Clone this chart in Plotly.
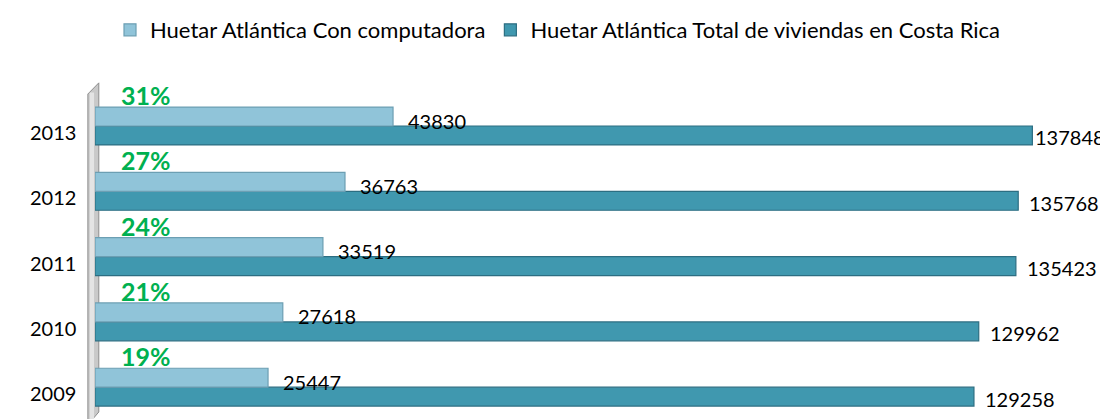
import plotly.graph_objects as go

years = ["2009", "2010", "2011", "2012", "2013"]
con_computadora = [25447, 27618, 33519, 36763, 43830]
total_viviendas = [129258, 129962, 135423, 135768, 137848]
pct_labels = ["19%", "21%", "24%", "27%", "31%"]

name_con = "Huetar Atlántica Con computadora"
name_tot = "Huetar Atlántica Total de viviendas en Costa Rica"

FONT = "Lato"
light = "#90C4D9"
dark = "#4098AF"

# page has an 8px body margin: the figure is drawn from (8, 8)
W, H = 1100, 411

fig = go.Figure()
fig.add_trace(go.Bar(
    y=years, x=total_viviendas, orientation="h", name=name_tot,
    marker=dict(color=dark, line=dict(color="#2C6E82", width=1.2)),
    legendrank=2,
))
fig.add_trace(go.Bar(
    y=years, x=con_computadora, orientation="h", name=name_con,
    marker=dict(color=light, line=dict(color="#6C9FB3", width=1.2)),
    legendrank=1,
))

annotations = []
bar_h = 0.29
vmax = max(total_viviendas)
for i, yr in enumerate(years):
    annotations.append(dict(x=con_computadora[i], y=i + bar_h / 2, xref="x", yref="y",
                            text=str(con_computadora[i]), showarrow=False,
                            xanchor="left", xshift=13, yshift=-4,
                            font=dict(family=FONT, size=20, color="black")))
    annotations.append(dict(x=total_viviendas[i], y=i - bar_h / 2, xref="x", yref="y",
                            text=str(total_viviendas[i]), showarrow=False,
                            xanchor="left", xshift=(1 if total_viviendas[i] == vmax else 9),
                            yshift=-2,
                            font=dict(family=FONT, size=20, color="black")))
    annotations.append(dict(x=0, y=i + bar_h, xref="x", yref="y",
                            text="<b>" + pct_labels[i] + "</b>", showarrow=False,
                            xanchor="left", yanchor="bottom", xshift=24, yshift=-5,
                            font=dict(family=FONT, size=25, color="#00B050")))
    annotations.append(dict(x=0, y=i, xref="paper", yref="y",
                            text=yr, showarrow=False,
                            xanchor="right", xshift=-17, yshift=-6,
                            font=dict(family=FONT, size=20, color="black")))

shapes = [
    dict(type="path", xref="paper", yref="paper",
         path="M -0.0075 1.0 L 0.004 1.035 L 0.004 -0.0 L -0.0075 -0.04 Z",
         fillcolor="#C9C9C9", line=dict(color="#8E8E8E", width=1), layer="below"),
    dict(type="rect", xref="paper", yref="paper",
         x0=-0.0055, x1=-0.001, y0=-0.03, y1=1.005,
         fillcolor="#E4E4E4", line=dict(width=0), layer="below"),
]

fig.update_layout(
    width=W, height=H,
    margin=dict(l=87, r=61, t=86, b=7),
    barmode="group", bargap=0.42, bargroupgap=0,
    plot_bgcolor="white", paper_bgcolor="white",
    font=dict(family=FONT, size=20, color="black"),
    showlegend=True,
    legend=dict(orientation="h", x=0.5, xanchor="center", xref="container",
                y=1 - 22 / H, yanchor="middle", yref="container",
                font=dict(family=FONT, size=22, color="black"),
                itemwidth=30),
    xaxis=dict(range=[0, 140000], visible=False),
    yaxis=dict(type="category", range=[-0.38, 4.49], showticklabels=False,
               showgrid=False, zeroline=False, showline=False, ticks=""),
    annotations=annotations,
    shapes=shapes,
)

fig.write_html("out.html")
